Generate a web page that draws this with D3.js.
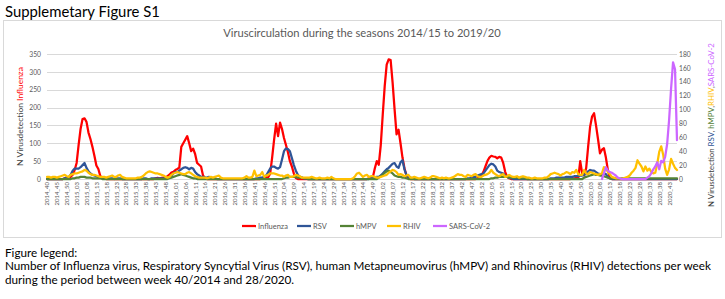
<!DOCTYPE html>
<html><head><meta charset="utf-8">
<script src="https://cdn.jsdelivr.net/npm/d3@7"></script>
<style>
body{margin:0;background:#fff}
svg{display:block}
text{font-family:Lato,"Open Sans",sans-serif}
</style>
</head><body>
<svg id="c" width="725" height="299"></svg>
<script>
// ---------- DATA ----------
const seriesNames = ["Influenza","RSV","hMPV","RHIV","SARS-CoV-2"];
const leftTicks = [0,50,100,150,200,250,300,350];
const rightTicks = [0,20,40,60,80,100,120,140,160,180];
const xTickLabels = ["2014_40","2014_45","2014_50","2015_03","2015_08","2015_13","2015_18","2015_23","2015_28","2015_33","2015_38","2015_43","2015_48",
"2016_01","2016_06","2016_11","2016_16","2016_21","2016_26","2016_31","2016_36","2016_41","2016_46","2016_51",
"2017_04","2017_09","2017_14","2017_19","2017_24","2017_29","2017_34","2017_39","2017_44","2017_49",
"2018_02","2018_07","2018_12","2018_17","2018_22","2018_27","2018_32","2018_37","2018_42","2018_47","2018_52",
"2019_05","2019_10","2019_15","2019_20","2019_25","2019_30","2019_35","2019_40","2019_45","2019_50",
"2020_03","2020_08","2020_13","2020_18","2020_23","2020_28","2020_33","2020_38","2020_43"];
// weekly categories 2014_40 ... 2020_47 (52 weeks per year as in the source)
const weeks = [];
{ let y = 2014, w = 40; for (let i = 0; i < 320; i++) { weeks.push(y + "_" + String(w).padStart(2, "0")); w++; if (w > 52) { w = 1; y++; } } }

const influenza = [
0,0,0,0,0,0,0,0,0,2, 4,3,6,12,25,45,95,140,168,170, 160,130,112,90,65,38,28,8,3,1, 0,0,0,0,0,0,0,0,0,0,
0,0,0,0,0,0,0,0,0,0, 0,0,0,0,0,2,3,2,3,4, 5,8,12,18,20,25,28,32,90,100, 110,120,100,78,85,70,45,40,35,10,
3,0,0,0,0,0,0,0,0,0, 0,0,0,0,0,0,0,0,0,0, 0,0,0,0,0,0,0,0,0,1, 2,3,5,15,60,110,155,120,158,140,
115,95,75,50,35,15,3,0,0,0, 0,0,0,0,0,0,0,0,0,0, 0,0,0,0,0,0,0,0,0,0, 0,0,0,0,0,0,0,0,0,0,
0,0,0,2,3,5,30,50,40,95, 180,260,320,335,333,270,195,125,138,100, 60,30,10,3,0,0,0,0,0,0, 0,0,0,0,0,0,0,0,0,0,
0,0,0,0,0,0,0,0,0,0, 0,0,0,0,0,0,0,0,2,5, 10,20,35,50,60,65,63,62,58,62, 60,45,20,6,2,0,0,0,0,0,
0,0,0,0,0,0,0,0,0,0, 0,0,0,0,0,0,0,0,0,0, 0,0,0,0,0,0,1,2,3,2, 50,15,10,30,90,146,175,184,150,112,
72,82,86,60,25,2,0,0,0,0, 0,0,0,0,0,0,0,0,0,0, 0,0,0,0,0,0,0,0,0,0, 0,0,0,0,0,0,0,0,0,0];

const rsv = [
0,0,0,0,0,0,0,0,0,1, 2,3,6,12,15,15,15,17,20,23, 16,11,8,6,5,4,3,2,2,1, 1,1,1,1,0,1,1,1,0,0,
0,0,0,0,0,0,0,0,0,1, 1,0,0,1,1,1,1,1,1,1, 1,2,3,5,8,10,10,12,14,16, 17,16,14,16,15,10,7,5,3,3,
2,2,3,2,1,1,0,0,0,0, 0,0,0,0,0,0,0,0,0,0, 0,0,0,0,0,0,1,1,2,2, 3,5,10,15,18,18,16,15,17,28,
40,44,43,40,30,20,12,6,3,2, 1,1,0,0,0,0,0,0,0,0, 0,0,0,0,0,0,0,0,0,0, 0,0,0,0,0,0,0,0,0,0,
0,0,0,0,1,2,2,3,3,5, 8,11,14,16,19,22,23,18,16,24, 27,14,6,3,2,1,0,0,0,0, 0,0,0,0,0,0,0,0,0,0,
0,0,0,0,0,0,0,0,0,0, 0,0,0,1,1,2,3,3,5,6, 7,8,12,16,20,22,21,18,12,10, 9,8,5,3,2,1,0,0,0,0,
0,0,0,0,0,0,0,0,0,0, 0,0,0,0,0,1,1,1,2,2, 2,2,2,3,3,3,3,4,4,4, 5,5,6,8,11,13,12,12,10,8,
7,7,8,7,3,1,0,0,0,0, 0,0,0,0,0,0,0,0,0,0, 0,0,0,0,0,0,0,0,0,0, 0,0,0,0,0,0,0,0,0,0];

const hmpv = [
0,0,0,0,0,0,0,0,0,0, 0,0,0,1,1,2,2,3,3,3, 2,2,2,1,1,1,1,1,0,0, 0,0,0,0,0,0,0,0,0,0,
0,0,0,0,0,0,0,0,0,0, 0,0,0,0,0,0,0,0,0,0, 0,0,1,2,3,4,5,6,7,6, 5,4,3,2,1,1,0,0,0,0,
0,0,0,0,0,0,0,0,0,0, 0,0,0,0,0,0,0,0,0,0, 0,0,0,0,0,0,0,0,0,0, 0,0,0,0,0,0,0,0,0,0,
1,2,2,3,3,3,3,2,2,2, 1,1,0,0,0,0,0,0,0,0, 0,0,0,0,0,0,0,0,0,0, 0,0,0,0,0,0,0,0,0,0,
0,0,0,0,0,0,0,0,2,4, 6,9,11,12,10,8,5,4,3,3, 2,2,1,0,0,0,0,0,0,0, 0,0,0,0,0,0,0,0,0,0,
0,0,0,0,0,0,0,0,0,0, 0,0,0,0,0,0,0,0,0,0, 0,0,0,0,0,1,1,2,2,3, 3,3,3,3,2,2,2,2,2,1,
1,1,1,0,0,0,0,0,0,0, 0,0,0,0,0,0,0,0,0,0, 0,0,0,0,0,0,0,0,0,0, 0,0,2,3,4,5,6,7,6,6,
5,5,4,3,2,1,1,1,1,1, 1,1,1,1,1,1,1,1,1,1, 1,1,1,1,1,1,1,1,1,1, 1,1,1,1,1,1,1,1,1,1];

const rhiv = [
3,3,2,3,3,2,3,4,5,6, 4,3,6,7,8,8,9,10,11,13, 12,9,7,6,6,5,4,3,3,3, 2,3,4,5,3,3,5,6,3,2,
1,1,1,1,1,1,2,2,3,5, 8,10,11,10,9,8,8,7,6,5, 3,2,3,6,8,9,10,9,8,7, 7,9,10,8,6,4,3,2,2,2,
2,1,2,3,2,3,4,5,2,1, 1,1,1,1,1,1,1,1,1,1, 2,4,2,2,3,12,4,5,6,10, 3,5,6,8,8,8,7,6,5,5,
3,5,6,3,3,4,6,5,4,2, 2,2,2,2,3,2,1,1,2,1, 1,1,2,1,3,1,0,0,0,0, 0,0,0,0,0,1,4,8,9,6,
3,5,6,3,4,4,3,2,2,3, 4,5,6,9,11,13,12,10,6,7, 6,4,5,6,2,2,3,2,1,1, 2,3,2,1,2,4,4,3,2,1,
2,1,2,1,1,2,3,5,7,6, 6,4,3,6,5,4,6,7,4,3, 3,5,6,7,9,13,9,7,5,4, 6,7,3,4,6,4,3,3,4,2,
3,4,3,2,2,1,1,2,1,1, 1,1,2,2,4,7,8,9,8,7, 5,7,8,10,9,7,10,9,13,7, 6,6,13,8,7,10,9,8,7,6,
7,8,17,15,10,7,3,2,1,1, 1,0,1,2,3,5,9,12,16,27, 22,18,11,18,12,15,10,8,9,22, 39,47,35,15,6,14,29,22,16,13];

const sarsFirstWeek = "2020_09";
const sarsCov2 = [0,8,17,12,10,9,7,5,2, 1,0,0,0,0,0,0,0,0,0, 0,0,0,0,2,4,8,14,18,24, 14,26,24,32,50,85,130,168,158,56];

// ---------- CHART ----------
const svg = d3.select("#c");
const plotL = 47, plotR = 677, plotT = 54, plotB = 179;
const x = d3.scalePoint().domain(weeks).range([plotL, plotR]);
const yL = d3.scaleLinear().domain([0, 350]).range([plotB, plotT]);
const yR = d3.scaleLinear().domain([0, 180]).range([plotB, plotT]);
const grey = "#595959";
const colors = {"Influenza":"#ff0000","RSV":"#2f5597","hMPV":"#548235","RHIV":"#ffc000","SARS-CoV-2":"#cc66ff"};

function fit(sel, target) {
  const n = sel.node();
  const fs = parseFloat(sel.style("font-size")) || 10;
  const w = n.getComputedTextLength();
  if (w > 0) sel.style("font-size", (fs * target / w) + "px");
}

svg.append("rect").attr("width", 725).attr("height", 299).attr("fill", "#fff");

// page title
const t0 = svg.append("text").attr("x", 5).attr("y", 17).style("font-size", "16px").attr("fill", "#000").text("Supplemetary Figure S1");
fit(t0, 155);

// chart border
svg.append("rect").attr("x", 3.5).attr("y", 20.5).attr("width", 718).attr("height", 217)
  .attr("fill", "none").attr("stroke", "#d9d9d9");

// chart title
const ct = svg.append("text").attr("x", 362).attr("y", 37).attr("text-anchor", "middle")
  .style("font-size", "11px").attr("fill", grey).text("Viruscirculation during the seasons 2014/15 to 2019/20");
fit(ct, 278);

// gridlines
svg.append("g").selectAll("line").data(leftTicks).join("line")
  .attr("x1", plotL).attr("x2", plotR).attr("y1", d => Math.round(yL(d)) + 0.5).attr("y2", d => Math.round(yL(d)) + 0.5)
  .attr("stroke", "#d9d9d9").attr("stroke-width", 1);

// left axis
const ga = svg.append("g").attr("transform", `translate(${plotL},0)`)
  .call(d3.axisLeft(yL).tickValues(leftTicks).tickSize(0).tickPadding(6));
ga.select(".domain").remove();
ga.selectAll("text").attr("fill", grey).style("font-family", "Lato,'Open Sans',sans-serif");
{ const s = ga.selectAll("text").filter(d => d === 350); const n = s.node(); s.style("font-size","8px");
  const w = n.getComputedTextLength(); ga.selectAll("text").style("font-size", (8 * 11.7 / w) + "px"); }

// right axis
const gr = svg.append("g").attr("transform", `translate(${plotR},0)`)
  .call(d3.axisRight(yR).tickValues(rightTicks).tickSize(0).tickPadding(2));
gr.select(".domain").remove();
gr.selectAll("text").attr("fill", grey).style("font-family", "Lato,'Open Sans',sans-serif");
{ const s = gr.selectAll("text").filter(d => d === 180); const n = s.node(); s.style("font-size","8px");
  const w = n.getComputedTextLength(); gr.selectAll("text").style("font-size", (8 * 11.7 / w) + "px"); }

// x axis
const gx = svg.append("g").attr("transform", `translate(0,${plotB})`)
  .call(d3.axisBottom(x).tickValues(xTickLabels).tickSize(0));
gx.select(".domain").remove();
gx.selectAll("text").attr("fill", grey).style("font-family", "Lato,'Open Sans',sans-serif")
  .attr("transform", "rotate(-90)").attr("x", -3).attr("y", 0).attr("dy", "0.32em").style("text-anchor", "end");
{ const n = gx.select("text").node(); gx.selectAll("text").style("font-size", "8px");
  const w = n.getComputedTextLength(); gx.selectAll("text").style("font-size", (8 * 23.5 / w) + "px"); }

// axis titles
const lt = svg.append("text").attr("transform", "translate(20,116.5) rotate(-90)").attr("text-anchor", "middle")
  .attr("dy", "0.35em").style("font-size", "9px");
lt.append("tspan").attr("fill", "#404040").text("N Virusdetection ");
lt.append("tspan").attr("fill", colors["Influenza"]).text("Influenza");
fit(lt, 99);

const rt = svg.append("text").attr("transform", "translate(711,125) rotate(-90)").attr("text-anchor", "middle")
  .attr("dy", "0.35em").style("font-size", "9px");
rt.append("tspan").attr("fill", "#404040").text("N Virusdetection ");
rt.append("tspan").attr("fill", colors["RSV"]).text("RSV");
rt.append("tspan").attr("fill", "#404040").text(", ");
rt.append("tspan").attr("fill", colors["hMPV"]).text("hMPV");
rt.append("tspan").attr("fill", "#404040").text(",");
rt.append("tspan").attr("fill", colors["RHIV"]).text("RHIV");
rt.append("tspan").attr("fill", "#404040").text(",");
rt.append("tspan").attr("fill", colors["SARS-CoV-2"]).text("SARS-CoV-2");
fit(rt, 164);

// lines
const sarsStart = weeks.indexOf(sarsFirstWeek);
const sarsFull = weeks.map((w, i) => i >= sarsStart ? sarsCov2[i - sarsStart] : null);
const series = [
  {name: "Influenza", values: influenza, y: yL},
  {name: "RSV", values: rsv, y: yR},
  {name: "hMPV", values: hmpv, y: yR},
  {name: "RHIV", values: rhiv, y: yR},
  {name: "SARS-CoV-2", values: sarsFull, y: yR}
];
const gl = svg.append("g");
series.forEach(s => {
  const line = d3.line().defined(d => d != null).x((d, i) => x(weeks[i])).y(d => s.y(d));
  gl.append("path").datum(s.values).attr("d", line).attr("fill", "none")
    .attr("stroke", colors[s.name]).attr("stroke-width", 2.25).attr("stroke-linejoin", "round").attr("stroke-linecap", "round");
});

// legend
const legendX = [242, 297, 340, 387, 433];
const lg = svg.append("g");
let legendFont = null;
seriesNames.forEach((name, k) => {
  const g = lg.append("g").attr("transform", `translate(${legendX[k]},226)`);
  g.append("line").attr("x1", 0).attr("x2", 14).attr("y1", 0).attr("y2", 0).attr("stroke", colors[name]).attr("stroke-width", 2.25);
  const t = g.append("text").attr("x", 16).attr("y", 0).attr("dy", "0.35em").attr("fill", grey).style("font-size", "8px").text(name);
  if (k === 0) { fit(t, 30); legendFont = t.style("font-size"); } else t.style("font-size", legendFont);
});

// figure legend text
const f2 = svg.append("text").attr("x", 5).attr("y", 270).style("font-size", "11px").attr("fill", "#000")
  .text("Number of Influenza virus, Respiratory Syncytial Virus (RSV), human Metapneumovirus (hMPV) and Rhinovirus (RHIV) detections per week");
fit(f2, 707);
const bodyFont = f2.style("font-size");
svg.append("text").attr("x", 5).attr("y", 257).style("font-size", bodyFont).attr("fill", "#000").text("Figure legend:");
svg.append("text").attr("x", 5).attr("y", 284).style("font-size", bodyFont).attr("fill", "#000")
  .text("during the period between week 40/2014 and 28/2020.");
</script>
</body></html>
